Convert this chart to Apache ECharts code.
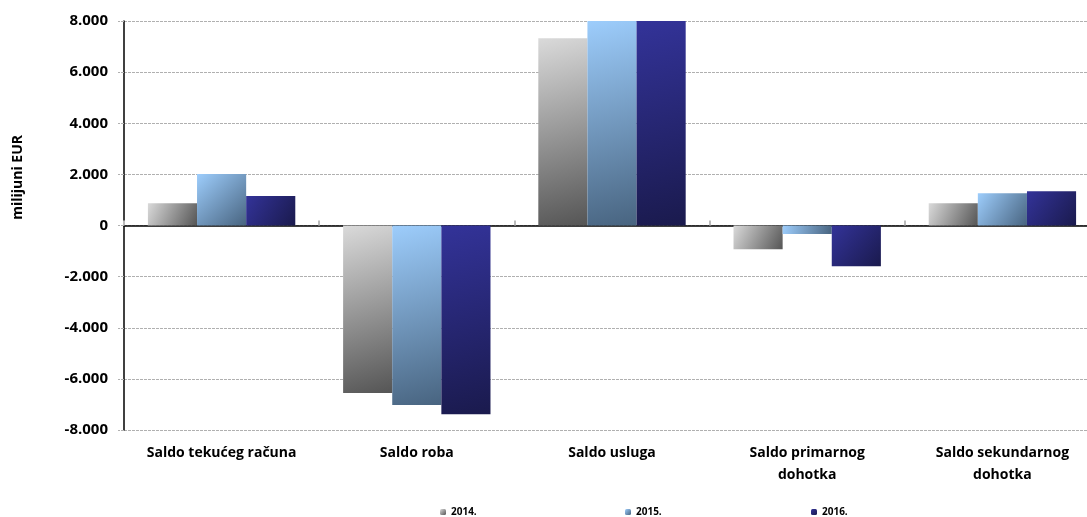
<!DOCTYPE html>
<html><head><meta charset="utf-8">
<script src="https://cdn.jsdelivr.net/npm/echarts@6/dist/echarts.min.js"></script>
<style>html,body{margin:0;padding:0;background:#fff;overflow:hidden;width:1087px;height:517px}#c{width:1100px;height:517px}</style>
</head><body><div id="c"></div>
<script>
const categories = ['Saldo tekućeg računa', 'Saldo roba', 'Saldo usluga', 'Saldo primarnog\ndohotka', 'Saldo sekundarnog\ndohotka'];
const seriesNames = ['2014.', '2015.', '2016.'];
const values2014 = [870, -6550, 7330, -930, 870];
const values2015 = [2010, -7020, 8300, -330, 1260];
const values2016 = [1150, -7380, 8600, -1590, 1340];
const yTicks = { min: -8000, max: 8000, interval: 2000 };

const font = '"Open Sans", "Liberation Sans", sans-serif';
function grad(a, b) {
  return new echarts.graphic.LinearGradient(0, 0, 1, 1, [{offset: 0, color: a}, {offset: 1, color: b}]);
}
const colors = [grad('#dadada', '#555555'), grad('#9dcdfc', '#486480'), grad('#333399', '#1a1a4d')];
const data = [values2014, values2015, values2016];
const legendLefts = [440, 625, 811];

const chart = echarts.init(document.getElementById('c'), null, {renderer: 'canvas', width: 1100, height: 517});
chart.setOption({
  animation: false,
  backgroundColor: '#fff',
  grid: { left: 124, top: 21, right: 0, bottom: 87, containLabel: false },
  legend: seriesNames.map((n, i) => ({
    data: [n], left: legendLefts[i], top: 507, itemWidth: 6, itemHeight: 6, padding: 0,
    textStyle: { fontFamily: font, fontSize: 10, fontWeight: 'bold', color: '#000' }
  })),
  graphic: [{
    type: 'text', left: 11, top: 135, rotation: Math.PI / 2,
    style: { text: 'milijuni EUR', font: 'bold 14px ' + font, fill: '#000' }
  }],
  xAxis: [{
    type: 'category', data: categories, position: 'bottom',
    axisLine: { show: false, onZero: false }, axisTick: { show: false },
    axisLabel: { fontFamily: font, fontSize: 14, fontWeight: 'bold', color: '#000', margin: 12, lineHeight: 22, interval: 0 }
  }, {
    type: 'category', data: categories,
    axisLine: { show: true, onZero: true, lineStyle: { color: '#000', width: 1.5 } },
    axisTick: { show: true, length: 5, lineStyle: { color: '#bbb', width: 2 } },
    axisLabel: { show: false }
  }],
  yAxis: {
    type: 'value', min: yTicks.min, max: yTicks.max, interval: yTicks.interval,
    axisLine: { show: true, lineStyle: { color: '#000', width: 1.5 } },
    axisTick: { show: true, length: 6, lineStyle: { color: '#b0b0b0', type: [3, 1] } },
    splitLine: { show: true, lineStyle: { color: '#b0b0b0', width: 1, type: [3, 1] } },
    axisLabel: {
      fontFamily: font, fontSize: 15, fontWeight: 'bold', color: '#000', margin: 16,
      formatter: v => (v < 0 ? '-' : '') + (Math.abs(v) >= 1000 ? Math.floor(Math.abs(v) / 1000) + '.' + String(Math.abs(v) % 1000).padStart(3, '0') : String(Math.abs(v)))
    }
  },
  series: seriesNames.map((n, i) => ({
    name: n, type: 'bar', data: data[i], xAxisIndex: 0, clip: true,
    barGap: '0%', barCategoryGap: '24.5%',
    itemStyle: { color: colors[i] }
  }))
});
</script></body></html>
